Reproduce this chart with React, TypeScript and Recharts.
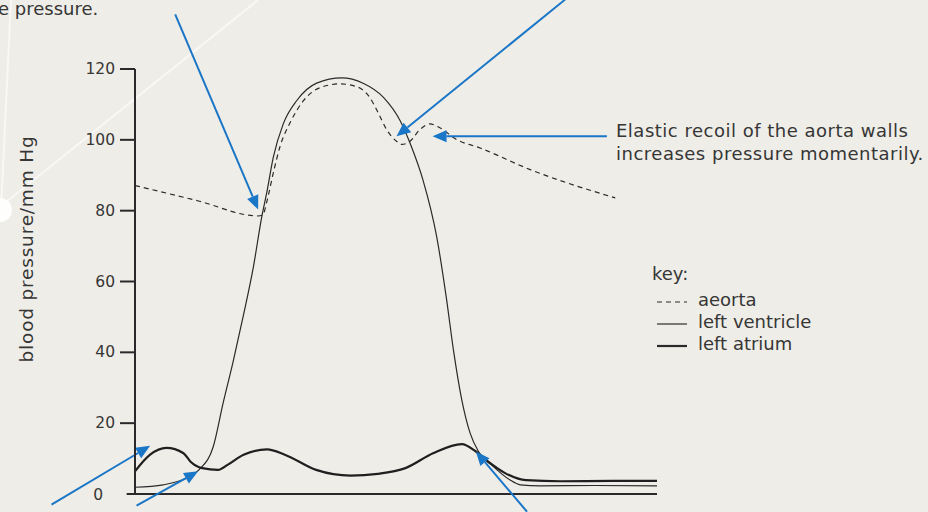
import React from 'react';
import { LineChart, Line, XAxis, YAxis, ReferenceLine, Legend } from 'recharts';

// time (arbitrary units, 0..100 across the cycle) and pressure (mm Hg)
const aortaTime = [0, 12, 23.6, 24.5, 25.2, 26.5, 27.8, 29.7, 32.2, 35.4, 39.3, 42.5, 45.0, 46.6, 48.2, 50.1, 51.1, 52.7, 54.6, 56.5, 58.4, 61.6, 66.1, 75.7, 92.0];
const aortaPressure = [87.1, 82.8, 78.5, 78.8, 82.2, 90.7, 98.2, 104.8, 110.9, 114.7, 115.8, 115.0, 111.9, 107.6, 102.9, 99.6, 98.7, 99.6, 102.9, 104.5, 103.4, 100.1, 97.7, 91.6, 83.6];

const ventricleTime = [0, 5.4, 9.9, 12.3, 15.0, 16.9, 18.8, 20.7, 22.7, 24.3, 25.2, 26.5, 28.4, 31.0, 34.8, 39.6, 43.7, 47.6, 50.8, 53.0, 55.2, 57.8, 59.7, 61.0, 62.6, 64.2, 65.8, 68.6, 71.8, 73.8, 77.6, 88, 100];
const ventriclePressure = [1.9, 2.6, 4.5, 6.9, 13.4, 25.8, 37.4, 50.0, 64.3, 78.4, 84.8, 95.1, 104.5, 111.1, 116.0, 117.5, 116.0, 112.0, 105.4, 97.9, 88.5, 72.6, 54.8, 40.7, 26.6, 17.2, 12.0, 7.8, 4.0, 2.6, 2.3, 2.4, 2.3];

const atriumTime = [0, 2.9, 6.0, 9.3, 10.6, 12.9, 15.9, 17.8, 20.8, 25.3, 28.7, 34.7, 41.3, 46.5, 51.8, 57.1, 62.6, 65.3, 67.6, 70.9, 74.9, 81.5, 91.4, 100];
const atriumPressure = [6.4, 11.1, 13.0, 11.5, 9.2, 7.3, 6.8, 8.3, 11.1, 12.6, 11.1, 6.8, 5.2, 5.7, 7.3, 11.5, 14.1, 12.0, 9.2, 5.9, 3.9, 3.6, 3.7, 3.7];

const yTicks = [0, 20, 40, 60, 80, 100, 120];

// annotation arrows: [startTime, startPressure] -> [tipTime, tipPressure]
const arrowStarts = [[7.7, 135.4], [82.4, 139.6], [90.4, 101.0], [-16.0, -3.0], [0.3, -3.3], [75.1, -5.0]];
const arrowTips = [[23.6, 80.3], [50.1, 101.0], [57.0, 101.0], [2.9, 13.6], [12.1, 6.4], [65.3, 12.0]];

const zip = (ts: number[], ps: number[]) => ts.map((t, i) => ({ t, p: ps[i] }));
const aortaData = zip(aortaTime, aortaPressure);
const ventricleData = zip(ventricleTime, ventriclePressure);
const atriumData = zip(atriumTime, atriumPressure);

const FONT = '"DejaVu Sans", sans-serif';
const TEXT = '#363636';
const INK = '#2a2a2a';
const BLUE = '#1a76c7';

const YTick = (props: any) => {
  const { x, y, payload } = props;
  if (payload.value === 0) {
    return (
      <text x={x - 32} y={y + 1} textAnchor="end" dominantBaseline="central" fontFamily={FONT} fontSize={15.5} fill={TEXT}>
        0
      </text>
    );
  }
  return (
    <g>
      <line x1={x - 15} x2={x} y1={y} y2={y} stroke={INK} strokeWidth={2} />
      <text x={x - 20} y={y} textAnchor="end" dominantBaseline="central" fontFamily={FONT} fontSize={15.5} fill={TEXT}>
        {payload.value}
      </text>
    </g>
  );
};

const ArrowShape = (props: any) => {
  const { x1, y1, x2, y2 } = props;
  const a = Math.atan2(y2 - y1, x2 - x1);
  const L = 14;
  const W = 6;
  const bx = x2 - L * Math.cos(a);
  const by = y2 - L * Math.sin(a);
  const px = -Math.sin(a) * W;
  const py = Math.cos(a) * W;
  return (
    <g>
      <line x1={x1} y1={y1} x2={bx} y2={by} stroke={BLUE} strokeWidth={2} />
      <polygon points={`${x2},${y2} ${bx + px},${by + py} ${bx - px},${by - py}`} fill={BLUE} />
    </g>
  );
};

const renderLegend = () => (
  <svg width={220} height={100} style={{ display: 'block' }}>
    <text x={12} y={25} fontFamily={FONT} fontSize={18} fill={TEXT}>key:</text>
    <line x1={17} x2={47} y1={47} y2={47} stroke={INK} strokeWidth={1.2} strokeDasharray="5 4" />
    <text x={58} y={51} fontFamily={FONT} fontSize={18} fill={TEXT}>aeorta</text>
    <line x1={17} x2={47} y1={69} y2={69} stroke={INK} strokeWidth={1.2} />
    <text x={58} y={73} fontFamily={FONT} fontSize={18} fill={TEXT}>left ventricle</text>
    <line x1={17} x2={47} y1={91} y2={91} stroke={INK} strokeWidth={2.2} />
    <text x={58} y={95} fontFamily={FONT} fontSize={18} fill={TEXT}>left atrium</text>
  </svg>
);

export default function App() {
  return (
    <div style={{ position: 'absolute', left: 0, top: 0, width: 928, height: 512, background: '#efede7', overflow: 'hidden' }}>
      <svg width={928} height={512} style={{ position: 'absolute', left: 0, top: 0 }}>
        <line x1={0} y1={207} x2={258} y2={0} stroke="#ffffff" strokeOpacity={0.6} strokeWidth={2} />
        <line x1={11} y1={0} x2={1} y2={210} stroke="#ffffff" strokeOpacity={0.6} strokeWidth={2} />
        <circle cx={0} cy={210} r={12} fill="#ffffff" fillOpacity={0.9} />
        <text x={-2} y={15} fontFamily={FONT} fontSize={18} fill={TEXT}>e pressure.</text>
        <text transform="rotate(-90)" x={-249} y={33} textAnchor="middle" fontFamily={FONT} fontSize={18.5} letterSpacing={0.8} fill={TEXT}>
          blood pressure/mm Hg
        </text>
        <text x={616} y={137} fontFamily={FONT} fontSize={18} letterSpacing={0.5} fill={TEXT}>Elastic recoil of the aorta walls</text>
        <text x={616} y={160} fontFamily={FONT} fontSize={18} letterSpacing={0.5} fill={TEXT}>increases pressure momentarily.</text>
      </svg>
      <div style={{ position: 'absolute', left: 0, top: 0 }}>
        <LineChart width={928} height={512} margin={{ top: 69, right: 271, bottom: 18, left: 0 }}>
          <XAxis dataKey="t" type="number" domain={[0, 100]} hide allowDataOverflow />
          <YAxis
            type="number"
            domain={[0, 120]}
            ticks={yTicks}
            width={135}
            tickSize={0}
            tickMargin={0}
            tickLine={false}
            axisLine={{ stroke: INK, strokeWidth: 2 }}
            tick={<YTick />}
            interval={0}
          />
          <ReferenceLine
            segment={[{ x: -1.6, y: 0 }, { x: 100, y: 0 }]}
            stroke={INK}
            strokeWidth={2}
            ifOverflow="visible"
          />
          <Line data={aortaData} dataKey="p" type="monotone" stroke={INK} strokeWidth={1.2} strokeDasharray="5 4" dot={false} activeDot={false} isAnimationActive={false} />
          <Line data={ventricleData} dataKey="p" type="monotone" stroke={INK} strokeWidth={1.2} dot={false} activeDot={false} isAnimationActive={false} />
          <Line data={atriumData} dataKey="p" type="monotone" stroke="#1f1f1f" strokeWidth={2.2} dot={false} activeDot={false} isAnimationActive={false} />
          {arrowStarts.map((s, i) => (
            <ReferenceLine
              key={i}
              segment={[{ x: s[0], y: s[1] }, { x: arrowTips[i][0], y: arrowTips[i][1] }]}
              ifOverflow="visible"
              shape={(p: any) => <ArrowShape {...p} />}
            />
          ))}
          <Legend
            layout="vertical"
            align="center"
            verticalAlign="middle"
            content={renderLegend}
            wrapperStyle={{ position: 'absolute', left: 640, top: 255, width: 220, height: 100 }}
          />
        </LineChart>
      </div>
    </div>
  );
}
